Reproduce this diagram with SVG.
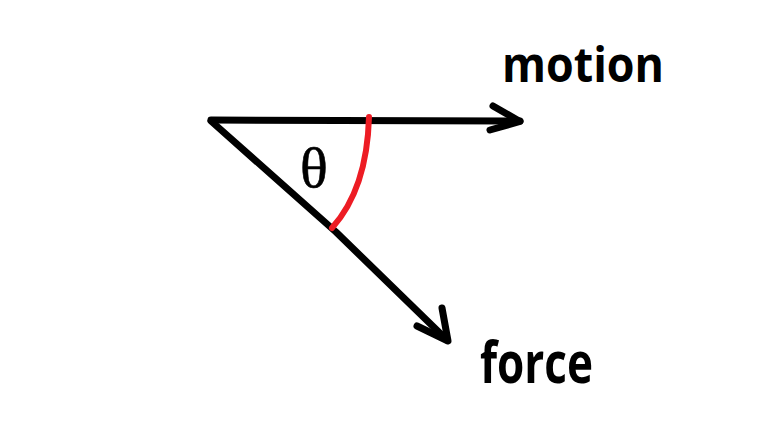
<svg xmlns="http://www.w3.org/2000/svg" width="758" height="438" viewBox="0 0 758 438">
<style>
.ln{fill:none;stroke:#000;stroke-width:7;stroke-linecap:round;stroke-linejoin:round}
.arc{fill:none;stroke:#ED1C24;stroke-width:6;stroke-linecap:round}
.lbl{font-family:"Open Sans","Liberation Sans",sans-serif;font-weight:bold;fill:#000}
.sym{font-family:"Liberation Serif","DejaVu Serif",serif;fill:#000;stroke:#000;stroke-width:0.6}
</style>
<rect width="758" height="438" fill="#fff"/>
<g id="connectors">
<path class="ln" d="M211,120 L520,121"/>
<path class="ln" d="M493,106 L520,121.5 L490,130"/>
<path class="ln" d="M211,121 L336,232 L447,340"/>
<path class="ln" d="M442,308 L448,341 L417,326"/>
<path class="arc" d="M369,117 Q367,189 332,228"/>
</g>
<g id="motion"><text class="lbl" x="502" y="82" font-size="48" textLength="162" lengthAdjust="spacingAndGlyphs">motion</text></g>
<g id="force"><text class="lbl" x="480" y="383" font-size="58" textLength="113" lengthAdjust="spacingAndGlyphs">force</text></g>
<g id="theta"><text class="sym" x="314" y="187" font-size="58" text-anchor="middle">θ</text></g>
</svg>
